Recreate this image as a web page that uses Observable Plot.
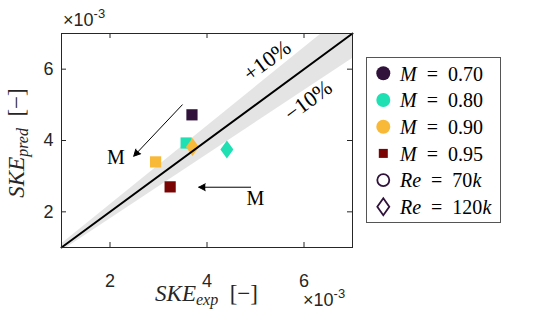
<!DOCTYPE html>
<html>
<head>
<meta charset="utf-8">
<script src="https://cdn.jsdelivr.net/npm/d3@7"></script>
<script src="https://cdn.jsdelivr.net/npm/@observablehq/plot@0.6"></script>
<style>
  html, body { margin: 0; padding: 0; background: #fff; }
  #chart { width: 550px; height: 321px; }
</style>
</head>
<body>
<div id="chart"></div>
<script>
// ---- data ----
const machValues = ["0.70", "0.80", "0.90", "0.95"];
const machColors = ["#30123b", "#1fe0b3", "#f9b938", "#7a0403"];
const skeExp  = [3.69, 3.57, 2.94, 3.24, 3.70, 4.41];
const skePred = [4.72, 3.93, 3.40, 2.70, 3.82, 3.75];
const pointMach = ["0.70", "0.80", "0.90", "0.95", "0.90", "0.80"];
const pointRe   = ["70k", "70k", "70k", "70k", "120k", "120k"];
const xTicks = [2, 4, 6];
const yTicks = [2, 4, 6];
const diagX = [1, 7];
const tolerance = 0.10;
const arrowX1 = [3.49, 4.90];
const arrowY1 = [5.00, 2.69];
const arrowX2 = [2.49, 3.83];
const arrowY2 = [3.56, 2.69];
const annText = ["M", "M"];
const annX = [2.12, 5.00];
const annY = [3.51, 2.37];
const bandText = ["+10%", "\u221210%"];
const bandTextX = [5.24, 6.09];
const bandTextY = [6.24, 5.12];
const legendVar = ["M", "M", "M", "M", "Re", "Re"];
const legendVal = ["0.70", "0.80", "0.90", "0.95", "70", "120"];
const legendUnit = ["", "", "", "", "k", "k"];
const legendShape = ["circle", "circle", "circle", "square", "ocircle", "odiamond"];
const legendColor = ["#30123b", "#1fe0b3", "#f9b938", "#7a0403", "#30123b", "#30123b"];

// ---- tables ----
const points = skeExp.map((x, i) => ({x, y: skePred[i], mach: pointMach[i], re: pointRe[i]}));
const arrows = arrowX1.map((x1, i) => ({x1, y1: arrowY1[i], x2: arrowX2[i], y2: arrowY2[i]}));
const anns = annText.map((t, i) => ({t, x: annX[i], y: annY[i]}));
const bandLabels = bandText.map((t, i) => ({t, x: bandTextX[i], y: bandTextY[i]}));

// custom symbols
const squareSym = {draw(ctx, size) { const h = Math.sqrt(size / Math.PI); ctx.rect(-h, -h, 2 * h, 2 * h); }};
const diamondSym = {draw(ctx, size) {
  const w = Math.sqrt(size / Math.PI), h = w * 1.38;
  ctx.moveTo(0, -h); ctx.lineTo(w, 0); ctx.lineTo(0, h); ctx.lineTo(-w, 0); ctx.closePath();
}};

const W = 550, H = 321, ML = 61, MR = 198, MT = 33, MB = 74;
const FW = W - ML - MR, FH = H - MT - MB;
const SERIF = "Liberation Serif, Times New Roman, serif";
const SANS = "Liberation Sans, Arial, Helvetica, sans-serif";

const plot = Plot.plot({
  width: W, height: H,
  marginLeft: ML, marginRight: MR, marginTop: MT, marginBottom: MB,
  style: {fontFamily: SANS, fontSize: "18px", color: "#262626", background: "#fff"},
  x: {domain: [1, 7], label: null},
  y: {domain: [1, 7], label: null},
  color: {domain: machValues, range: machColors},
  marks: [
    Plot.areaY(diagX, {x: d => d, y1: d => d * (1 - tolerance), y2: d => d * (1 + tolerance), fill: "#e4e4e4", clip: true}),
    Plot.dot(points.filter(d => d.re === "70k"), {x: "x", y: "y", fill: "mach", symbol: squareSym, r: 5.6}),
    Plot.dot(points.filter(d => d.re === "120k"), {x: "x", y: "y", fill: "mach", symbol: diamondSym, r: 6.5}),
    Plot.line(diagX, {x: d => d, y: d => d, stroke: "#000", strokeWidth: 2}),
    Plot.arrow(arrows, {x1: "x1", y1: "y1", x2: "x2", y2: "y2", stroke: "#000", fill: "#000", strokeWidth: 1, headLength: 11, headAngle: 55}),
    Plot.text(anns, {x: "x", y: "y", text: "t", fontFamily: SERIF, fontSize: 20, fill: "#000"}),
    Plot.text(bandLabels, {x: "x", y: "y", text: "t", rotate: -36.5, fontFamily: SERIF, fontSize: 22, fill: "#000"}),
    Plot.tickX(xTicks, {x: d => d, insetTop: FH - 5, stroke: "#262626"}),
    Plot.tickX(xTicks, {x: d => d, insetBottom: FH - 5, stroke: "#262626"}),
    Plot.tickY(yTicks, {y: d => d, insetLeft: FW - 5, stroke: "#262626"}),
    Plot.tickY(yTicks, {y: d => d, insetRight: FW - 5, stroke: "#262626"}),
    Plot.frame({stroke: "#262626", strokeWidth: 1}),
    Plot.axisX(xTicks, {anchor: "bottom", tickSize: 0, tickPadding: 27, fill: "#262626"}),
    Plot.axisY(yTicks, {anchor: "left", tickSize: 0, tickPadding: 8, fill: "#262626"})
  ]
});

document.getElementById("chart").appendChild(plot);
const svg = d3.select(plot.tagName.toLowerCase() === "svg" ? plot : plot.querySelector("svg"));
svg.selectAll('g[aria-label="arrow"] path').attr("fill", "#000");

function styled(sel, family, size, italic) {
  return sel.style("font-family", family).style("font-size", size + "px").style("font-style", italic ? "italic" : "normal");
}

// ×10^-3 exponent labels
function expo(x, y) {
  const t = svg.append("text").attr("x", x).attr("y", y).attr("text-anchor", "start").attr("fill", "#262626");
  styled(t.append("tspan"), SANS, 18, false).text("\u00d710");
  styled(t.append("tspan").attr("dy", -7.7), SANS, 13, false).text("-3");
}
expo(63, 26);
expo(303, 306);

// axis titles
function axisTitle(g, sub) {
  g.attr("fill", "#262626").attr("text-anchor", "middle");
  styled(g.append("tspan"), SERIF, 23, true).text("SKE");
  styled(g.append("tspan").attr("dy", 4), SERIF, 16, true).text(sub);
  styled(g.append("tspan").attr("dy", -4), SERIF, 23, false).text("\u2002[\u2212]");
}
axisTitle(svg.append("text").attr("x", ML + FW / 2).attr("y", 300.5), "exp");
axisTitle(svg.append("text").attr("transform", "translate(23.5,143) rotate(-90)"), "pred");

// legend
const lg = svg.append("g");
lg.append("rect").attr("x", 366.5).attr("y", 57.5).attr("width", 134).attr("height", 165)
  .attr("fill", "#fff").attr("stroke", "#555").attr("stroke-width", 1);
legendVar.forEach((v, i) => {
  const cy = 73.3 + i * 26.7, cx = 383.3, c = legendColor[i], s = legendShape[i];
  if (s === "circle") lg.append("circle").attr("cx", cx).attr("cy", cy).attr("r", 7).attr("fill", c);
  else if (s === "square") lg.append("rect").attr("x", cx - 4.5).attr("y", cy - 4.5).attr("width", 9).attr("height", 9).attr("fill", c);
  else if (s === "ocircle") lg.append("circle").attr("cx", cx).attr("cy", cy).attr("r", 6).attr("fill", "none").attr("stroke", c).attr("stroke-width", 1.8);
  else lg.append("path").attr("d", `M${cx},${cy - 8.5}L${cx + 6},${cy}L${cx},${cy + 8.5}L${cx - 6},${cy}Z`).attr("fill", "none").attr("stroke", c).attr("stroke-width", 1.8);
  const t = lg.append("text").attr("x", 400).attr("y", cy + 7.2).attr("text-anchor", "start").attr("fill", "#000");
  styled(t.append("tspan"), SERIF, 20, true).text(v);
  styled(t.append("tspan"), SERIF, 20, false).text("\u2002=\u2002" + legendVal[i]);
  if (legendUnit[i]) styled(t.append("tspan"), SERIF, 20, true).text(legendUnit[i]);
});
</script>
</body>
</html>
